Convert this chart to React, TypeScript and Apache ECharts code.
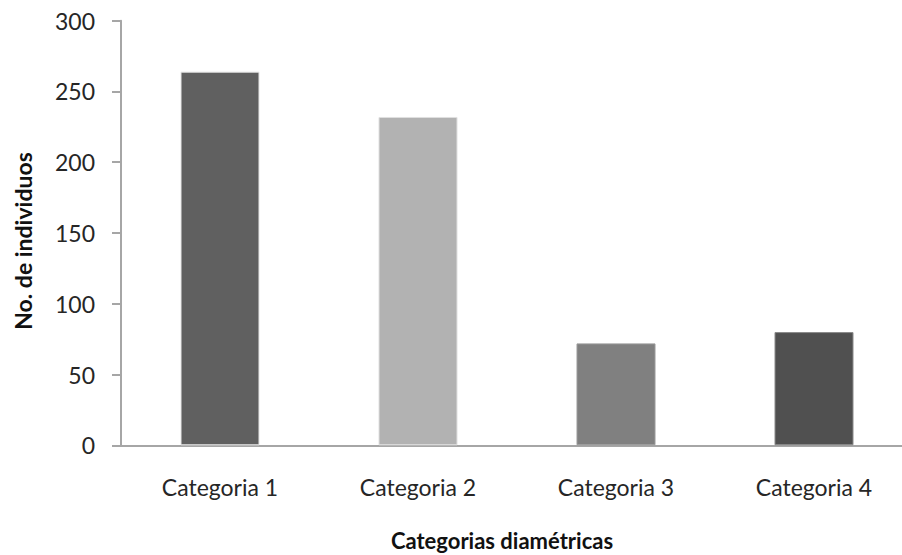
import React, { useEffect, useRef } from "react";
import * as echarts from "echarts";

const categories = ["Categoria 1", "Categoria 2", "Categoria 3", "Categoria 4"];
const individuals = [264, 232, 72, 80];
const barColors = ["#606060", "#b2b2b2", "#808080", "#505050"];
const barBorders = ["#e6e6e6", "#e0e0e0", "#9a9a9a", "#8a8a8a"];
const yTicks = { min: 0, max: 300, interval: 50 };

const FONT = "Lato, 'Open Sans', sans-serif";

export default function App() {
  const ref = useRef<HTMLDivElement>(null);

  useEffect(() => {
    if (!ref.current) return;
    const chart = echarts.init(ref.current, null, { renderer: "svg" });
    chart.setOption({
      animation: false,
      backgroundColor: "#ffffff",
      grid: {
        left: 121,
        top: 20.7,
        width: 792,
        height: 424.6,
        containLabel: false,
        outerBoundsMode: "none",
      },
      xAxis: {
        type: "category",
        data: categories,
        axisLine: { lineStyle: { color: "#a6a6a6", width: 2 } },
        axisTick: { show: false },
        axisLabel: { margin: 30, fontSize: 23, color: "#262626", fontFamily: FONT },
      },
      yAxis: {
        type: "value",
        min: yTicks.min,
        max: yTicks.max,
        interval: yTicks.interval,
        splitLine: { show: false },
        axisLine: { show: true, lineStyle: { color: "#a6a6a6", width: 2 } },
        axisTick: { show: true, inside: false, length: 9, lineStyle: { color: "#a6a6a6", width: 2 } },
        axisLabel: { margin: 26, fontSize: 23, color: "#262626", fontFamily: FONT },
      },
      series: [
        {
          type: "bar",
          barWidth: 79,
          data: individuals.map((v, i) => ({
            value: v,
            itemStyle: { color: barColors[i], borderColor: barBorders[i], borderWidth: 1 },
          })),
        },
      ],
      graphic: [
        {
          type: "text",
          x: 502,
          y: 540,
          style: {
            text: "Categorias diamétricas",
            font: `bold 22px ${FONT}`,
            fill: "#111111",
            textAlign: "center",
            textVerticalAlign: "middle",
          },
        },
        {
          type: "text",
          x: 23,
          y: 241,
          rotation: Math.PI / 2,
          style: {
            text: "No. de individuos",
            font: `bold 23px ${FONT}`,
            fill: "#111111",
            textAlign: "center",
            textVerticalAlign: "middle",
          },
        },
      ],
    });
    return () => chart.dispose();
  }, []);

  return (
    <div
      ref={ref}
      style={{ position: "fixed", left: 0, top: 0, width: 902, height: 555 }}
    />
  );
}
